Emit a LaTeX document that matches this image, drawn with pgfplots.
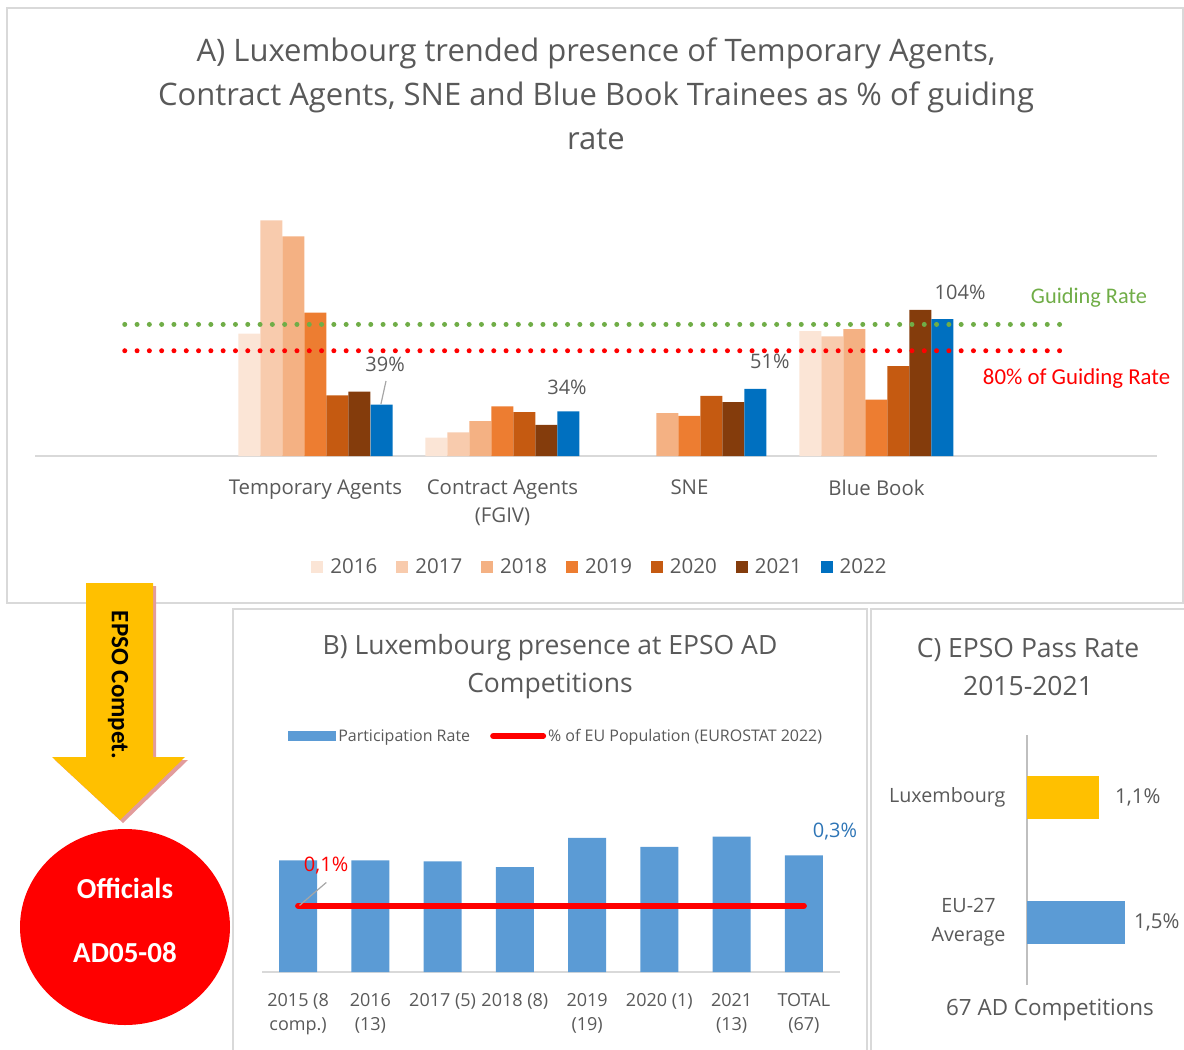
\documentclass[border=0pt]{standalone}
\usepackage{fontspec}
\setmainfont{Open Sans}
\newfontfamily\calibri{Carlito}
\usepackage{pgfplots}
\pgfplotsset{compat=1.18}
\definecolor{cA}{HTML}{FBE5D6}
\definecolor{cB}{HTML}{F8CBAD}
\definecolor{cC}{HTML}{F4B183}
\definecolor{cD}{HTML}{ED7D31}
\definecolor{cE}{HTML}{C55A11}
\definecolor{cF}{HTML}{843C0C}
\definecolor{cG}{HTML}{0070C0}
\definecolor{txt}{HTML}{595959}
\definecolor{frame}{HTML}{D9D9D9}
\definecolor{axl}{HTML}{D9D9D9}
\definecolor{axlc}{HTML}{BFBFBF}
\definecolor{grn}{HTML}{70AD47}
\definecolor{lblue}{HTML}{5B9BD5}
\definecolor{gold}{HTML}{FFC000}
\definecolor{shadowc}{HTML}{E29C9C}
\definecolor{pctblue}{HTML}{2E75B6}
\pgfplotsset{
  barA/.style={ybar, bar width=22bp, bar shift=#1, draw=none},
}
\begin{document}
\begin{tikzpicture}
\useasboundingbox (0bp,0bp) rectangle (1184bp,-1050bp);
% frames
\draw[frame, line width=1.5bp] (7bp,-8bp) rectangle (1183bp,-603bp);
\draw[frame, line width=1.5bp] (233bp,-1050bp) -- (233bp,-609bp) -- (867bp,-609bp) -- (867bp,-1050bp);
\draw[frame, line width=1.5bp] (871bp,-1050bp) -- (871bp,-609bp) -- (1184bp,-609bp);

% Title A
\node[text=txt, align=center, font=\fontsize{31bp}{44bp}\selectfont] at (596bp,-94bp) {A) Luxembourg trended presence of Temporary Agents,\\Contract Agents, SNE and Blue Book Trainees as \% of guiding\\rate};

\begin{axis}[
  at={(35bp,-456bp)}, anchor=south west, scale only axis,
  width=1122bp, height=250bp,
  xmin=-1.5, xmax=4.5, ymin=0, ymax=190,
  axis x line*=bottom, axis y line=none, ytick=\empty,
  x axis line style={axl, line width=2bp},
  xtick={0,1,2,3}, xticklabels={Temporary Agents,{Contract Agents\\(FGIV)},SNE,Blue Book},
  major tick length=0pt,
  xticklabel style={font=\fontsize{20.4bp}{28bp}\selectfont\color{txt}, align=center, anchor=north, yshift=-20bp},
  clip=false,
  legend style={at={(0.5036,-0.444)}, anchor=center, draw=none, fill=none,
     font=\fontsize{20.5bp}{22bp}\selectfont\color{txt}, legend columns=-1,
     /tikz/every odd column/.append style={column sep=5bp},
     /tikz/every even column/.append style={column sep=17bp}},
  legend image code/.code={\fill[#1,draw=none] (0bp,-6bp) rectangle (12bp,6bp);},
]
\addplot[barA=-66bp, fill=cA] coordinates {(0,93) (1,14) (3,95)};
\addplot[barA=-44bp, fill=cB] coordinates {(0,179) (1,18) (3,91)};
\addplot[barA=-22bp, fill=cC] coordinates {(0,167) (1,26.5) (2,32.5) (3,96.4)};
\addplot[barA=0bp, fill=cD] coordinates {(0,109) (1,37.7) (2,30.5) (3,42.9)};
\addplot[barA=22bp, fill=cE] coordinates {(0,46) (1,33.3) (2,45.7) (3,68.3)};
\addplot[barA=44bp, fill=cF] coordinates {(0,49) (1,23.7) (2,40.9) (3,111)};
\addplot[barA=66bp, fill=cG] coordinates {(0,39) (1,34) (2,51) (3,104)};
\legend{2016,2017,2018,2019,2020,2021,2022}
\addplot[grn, line width=5bp, line cap=round, dash pattern=on 0bp off 12.3bp, forget plot] coordinates {(-1.02,100) (3.98,100)};
\addplot[red, line width=5bp, line cap=round, dash pattern=on 0bp off 12.3bp, forget plot] coordinates {(-1.02,80) (3.98,80)};
\node[text=txt, font=\fontsize{20bp}{24bp}\selectfont] at (axis cs:0.372,69.9) {39\%};
\draw[gray!70, line width=1.2bp] (axis cs:0.377,57) -- (axis cs:0.350,39.5);
\node[text=txt, font=\fontsize{20bp}{24bp}\selectfont] at (axis cs:1.345,52.4) {34\%};
\node[text=txt, font=\fontsize{20bp}{24bp}\selectfont] at (axis cs:2.43,72) {51\%};
\node[text=txt, font=\fontsize{20bp}{24bp}\selectfont] at (axis cs:3.447,124.5) {104\%};
\node[text=grn, font=\calibri\fontsize{22.3bp}{26bp}\selectfont] at (axis cs:4.136,120.7) {Guiding Rate};
\node[text=red, font=\calibri\fontsize{22.8bp}{26bp}\selectfont] at (axis cs:4.07,58.5) {80\% of Guiding Rate};
\end{axis}

% Title B
\node[text=txt, align=center, font=\fontsize{26.5bp}{38bp}\selectfont] at (550bp,-667bp) {B) Luxembourg presence at EPSO AD\\Competitions};
\begin{axis}[
  at={(262bp,-972bp)}, anchor=south west, scale only axis,
  width=578bp, height=180bp,
  xmin=-0.5, xmax=7.5, ymin=0, ymax=0.4,
  axis x line*=bottom, axis y line=none, ytick=\empty,
  x axis line style={axl, line width=2bp},
  xtick={0,...,7},
  xticklabels={{2015 (8\\comp.)},{2016\\(13)},{2017 (5)},{2018 (8)},{2019\\(19)},{2020 (1)},{2021\\(13)},{TOTAL\\(67)}},
  major tick length=0pt,
  xticklabel style={font=\fontsize{18bp}{24bp}\selectfont\color{txt}, align=center, anchor=north, yshift=-18bp},
  clip=false,
  legend style={at={(0.509,1.311)}, anchor=center, draw=none, fill=none,
     font=\fontsize{16bp}{18bp}\selectfont\color{txt}, legend columns=-1,
     /tikz/every even column/.append style={column sep=18bp}},
]
\addplot[ybar, bar width=38bp, bar shift=0pt, fill=lblue, draw=none,
  legend image code/.code={\fill[lblue] (0bp,-5bp) rectangle (48bp,5bp);}]
  coordinates {(0,0.248) (1,0.248) (2,0.246) (3,0.233) (4,0.298) (5,0.278) (6,0.301) (7,0.259)};
\addlegendentry{Participation Rate}
\addplot[red, line width=6bp, line cap=round,
  legend image code/.code={\draw[red, line width=6bp, line cap=round] (0bp,0bp) -- (50bp,0bp);}]
  coordinates {(0,0.147) (7,0.147)};
\addlegendentry{\% of EU Population (EUROSTAT 2022)}
\draw[gray!70, line width=1.2bp] (axis cs:0.39,0.199) -- (axis cs:0.02,0.148);
\node[text=red, font=\fontsize{20bp}{24bp}\selectfont] at (axis cs:0.387,0.236) {0,1\%};
\node[text=pctblue, font=\fontsize{20bp}{24bp}\selectfont] at (axis cs:7.43,0.313) {0,3\%};
\end{axis}

% Title C
\node[text=txt, align=center, font=\fontsize{26.5bp}{38bp}\selectfont] at (1028bp,-667bp) {C) EPSO Pass Rate\\2015-2021};
\begin{axis}[
  at={(1027bp,-985bp)}, anchor=south west, scale only axis,
  width=155bp, height=250bp,
  xmin=0, xmax=2.38, ymin=-0.5, ymax=1.5,
  axis y line*=left, axis x line=none, xtick=\empty,
  y axis line style={axlc, line width=1.5bp},
  ytick={0,1}, yticklabels={{EU-27\\Average},Luxembourg},
  major tick length=0pt,
  yticklabel style={font=\fontsize{19.7bp}{29bp}\selectfont\color{txt}, align=center, anchor=east, xshift=-18bp},
  clip=false,
]
\addplot[xbar, bar width=43bp, bar shift=0pt, fill=gold, draw=none] coordinates {(1.1,1)};
\addplot[xbar, bar width=43bp, bar shift=0pt, fill=lblue, draw=none] coordinates {(1.5,0)};
\node[text=txt, font=\fontsize{20.5bp}{24bp}\selectfont, anchor=west] at (axis cs:1.3,1) {1,1\%};
\node[text=txt, font=\fontsize{20.5bp}{24bp}\selectfont, anchor=west] at (axis cs:1.59,0) {1,5\%};
\end{axis}
\node[text=txt, font=\fontsize{22.4bp}{24bp}\selectfont] at (1050bp,-1010bp) {67 AD Competitions};

% Arrow
\begin{scope}[shift={(3bp,-3bp)}]
\fill[shadowc] (86bp,-583bp) -- (153bp,-583bp) -- (153bp,-757bp) -- (185bp,-757bp) -- (120bp,-820bp) -- (52bp,-757bp) -- (86bp,-757bp) -- cycle;
\end{scope}
\fill[gold] (86bp,-583bp) -- (153bp,-583bp) -- (153bp,-757bp) -- (185bp,-757bp) -- (120bp,-820bp) -- (52bp,-757bp) -- (86bp,-757bp) -- cycle;
\node[rotate=-90, font=\calibri\bfseries\fontsize{25bp}{28bp}\selectfont] at (118bp,-685bp) {EPSO Compet.};

% Circle
\fill[red] (125bp,-927bp) ellipse [x radius=105bp, y radius=98bp];
\node[white, font=\calibri\bfseries\fontsize{29bp}{30bp}\selectfont] at (125bp,-888bp) {Officials};
\node[white, font=\calibri\bfseries\fontsize{29bp}{30bp}\selectfont] at (125bp,-953bp) {AD05-08};
\end{tikzpicture}
\end{document}
